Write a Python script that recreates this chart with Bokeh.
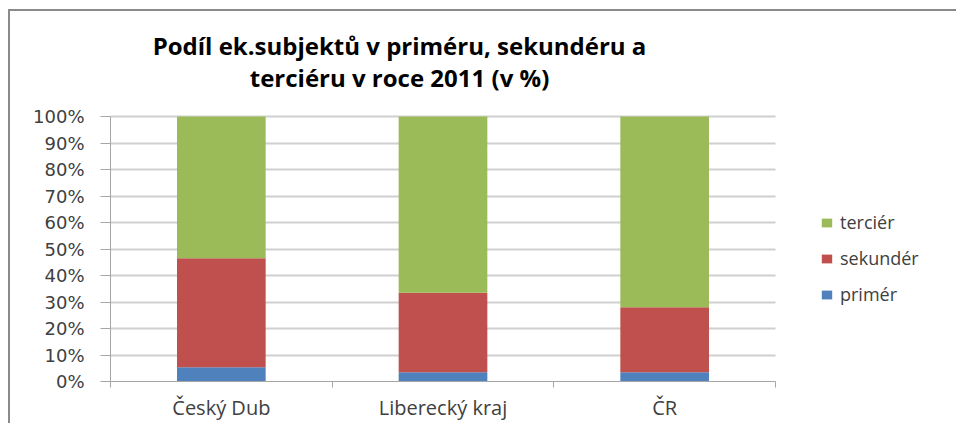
from bokeh.plotting import figure
from bokeh.models import (ColumnDataSource, FixedTicker, Legend, LegendItem, Label)
from bokeh.embed import file_html
from bokeh.resources import INLINE

# ---- data ----
categories = ["Český Dub", "Liberecký kraj", "ČR"]
primer = [5.4, 3.5, 3.5]
sekunder = [41.1, 30.0, 24.5]
tercier = [53.5, 66.5, 72.0]
series_names = ["primér", "sekundér", "terciér"]
y_ticks = [0, 10, 20, 30, 40, 50, 60, 70, 80, 90, 100]
title_lines = ["Podíl ek.subjektů v priméru, sekundéru a", "terciéru v roce 2011 (v %)"]

colors = ["#4f81bd", "#c0504d", "#9bbb59"]
n = len(categories)
xpos = [i + 0.5 for i in range(n)]

# frame extends over title & legend area; axes are bounded to the data area
FRAME_W, PLOT_W = 848, 665      # px
FRAME_H, PLOT_H = 370, 265      # px
x_end = n * FRAME_W / PLOT_W
y_end = 100 * FRAME_H / PLOT_H

source = ColumnDataSource(dict(x=xpos, primer=primer, sekunder=sekunder, tercier=tercier))

p = figure(width=948, height=414, output_backend="svg", toolbar_location=None,
           x_range=(0, x_end), y_range=(0, y_end),
           min_border_left=100, min_border_right=0, min_border_top=0,
           min_border_bottom=44,
           styles={"margin-left": "8px", "margin-top": "9px",
                   "border-top": "2px solid #8a8a8a", "border-left": "2px solid #8a8a8a"})
p.outline_line_color = None
p.background_fill_color = "white"
p.border_fill_color = "white"

renderers = p.vbar_stack(["primer", "sekunder", "tercier"], x="x", width=0.4,
                         color=colors, line_color=None, source=source)

# y axis
p.yaxis.ticker = FixedTicker(ticks=y_ticks)
p.yaxis.bounds = (0, 100)
p.yaxis.major_label_overrides = {t: f"{t}%" for t in y_ticks}
p.yaxis.major_tick_out = 10
p.yaxis.major_tick_in = 0
p.yaxis.minor_tick_line_color = None
p.yaxis.axis_line_color = "#a6a6a6"
p.yaxis.major_tick_line_color = "#a6a6a6"
p.yaxis.major_label_text_font = "DejaVu Sans"
p.yaxis.major_label_text_font_size = "18px"
p.yaxis.major_label_text_color = "#404040"
p.yaxis.major_label_standoff = 16

# x axis
p.xaxis.ticker = FixedTicker(ticks=xpos, minor_ticks=list(range(n + 1)))
p.xaxis.bounds = (0, n)
p.xaxis.major_label_overrides = {x: c for x, c in zip(xpos, categories)}
p.xaxis.major_tick_line_color = None
p.xaxis.minor_tick_out = 6
p.xaxis.minor_tick_in = 0
p.xaxis.minor_tick_line_color = "#a6a6a6"
p.xaxis.axis_line_color = "#a6a6a6"
p.xaxis.major_label_text_font = "Open Sans"
p.xaxis.major_label_text_font_size = "20px"
p.xaxis.major_label_text_color = "#404040"
p.xaxis.major_label_standoff = 6

p.xgrid.grid_line_color = None
p.ygrid.ticker = FixedTicker(ticks=y_ticks)
p.ygrid.bounds = (0, 100)
p.ygrid.cross_bounds = (0, n)
p.ygrid.grid_line_color = "#d0d0d0"
p.ygrid.grid_line_width = 2

# legend
items = [LegendItem(label=series_names[i], renderers=[renderers[i]]) for i in [2, 1, 0]]
legend = Legend(items=items, location=(710, 75), padding=0, border_line_color=None,
                background_fill_alpha=0, glyph_width=13, glyph_height=11,
                label_standoff=7, label_height=20, spacing=12,
                label_text_font="Open Sans", label_text_font_size="18px",
                label_text_color="#404040")
p.add_layout(legend, "center")

# title
for txt, yy in zip(title_lines, [336, 304]):
    p.add_layout(Label(x=289, y=yy, x_units="screen", y_units="screen", text=txt,
                       text_align="center", text_baseline="alphabetic",
                       text_font="Open Sans", text_font_style="bold",
                       text_font_size="24px", text_color="#000000"))

open("out.html", "w").write(file_html(p, INLINE))
